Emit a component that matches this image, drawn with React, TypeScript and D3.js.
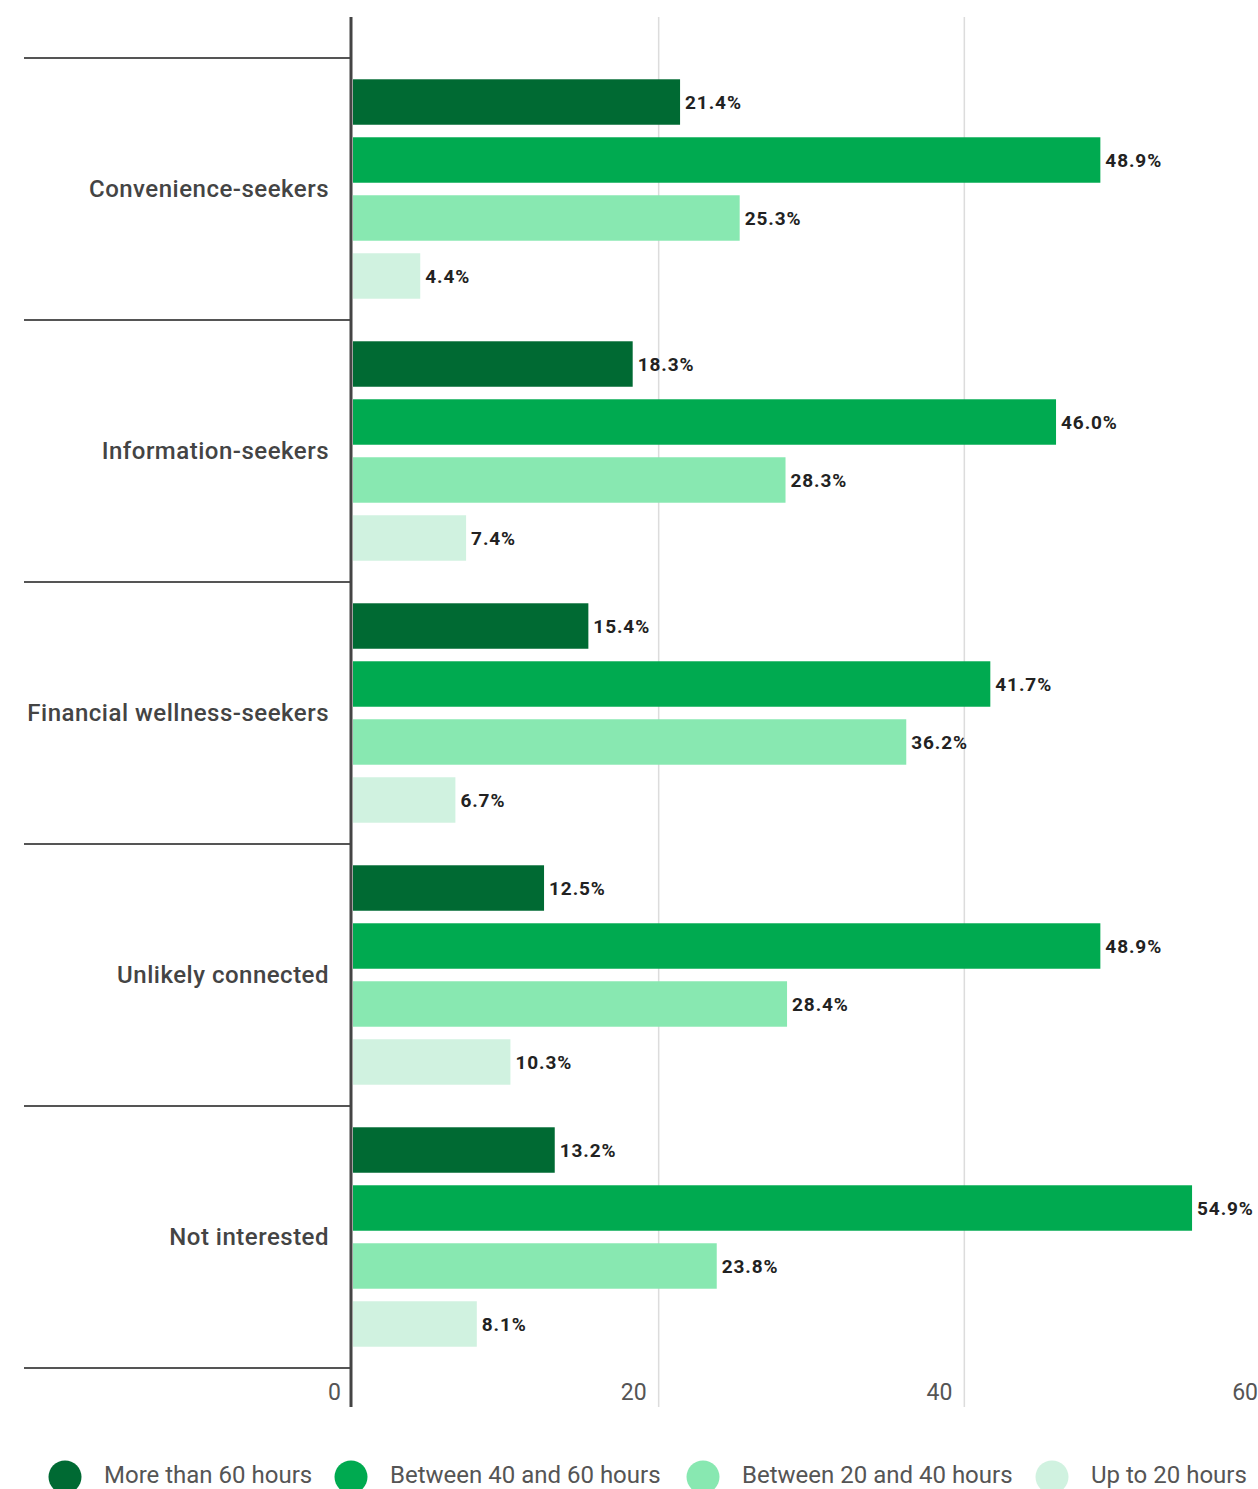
import React from "react";
import * as d3 from "d3";

const categories = [
  "Convenience-seekers",
  "Information-seekers",
  "Financial wellness-seekers",
  "Unlikely connected",
  "Not interested",
];
const seriesNames = [
  "More than 60 hours",
  "Between 40 and 60 hours",
  "Between 20 and 40 hours",
  "Up to 20 hours",
];
const moreThan60 = [21.4, 18.3, 15.4, 12.5, 13.2];
const between40and60 = [48.9, 46.0, 41.7, 48.9, 54.9];
const between20and40 = [25.3, 28.3, 36.2, 28.4, 23.8];
const upTo20 = [4.4, 7.4, 6.7, 10.3, 8.1];
const xTicks = [0, 20, 40, 60];
const colors = ["#006a33", "#00aa50", "#88e8b1", "#d0f2e0"];

const seriesValues = [moreThan60, between40and60, between20and40, upTo20];

const W = 1258;
const H = 1489;

export default function App() {
  const x = d3.scaleLinear().domain([0, 60]).range([353, 1270]);
  const y0 = d3.scaleBand().domain(categories).range([58, 1368]).paddingInner(0).paddingOuter(0);
  const y1 = d3
    .scaleBand()
    .domain(seriesNames)
    .range([0, y0.bandwidth()])
    .paddingInner(0.216)
    .paddingOuter(0.367);

  const font = "Roboto, 'Noto Sans', sans-serif";
  const legendCircleX = [65, 351, 703, 1052];

  return (
    <svg
      width={W}
      height={H}
      style={{ position: "absolute", left: 0, top: 0, display: "block", background: "#fff" }}
      fontFamily={font}
    >
      {/* gridlines */}
      {xTicks.slice(1).map((t) => (
        <line key={"g" + t} x1={x(t)} x2={x(t)} y1={17} y2={1407} stroke="#dcdcdc" strokeWidth={1.5} />
      ))}
      {/* tick labels */}
      {xTicks.map((t) => (
        <text
          key={"t" + t}
          x={x(t) - 12}
          y={1400}
          textAnchor="end"
          fontSize={23}
          fill="#555"
        >
          {t}
        </text>
      ))}
      {/* category separators */}
      {[...categories.map((c) => y0(c) as number), 1368].map((yy, i) => (
        <line key={"s" + i} x1={24} x2={351} y1={yy} y2={yy} stroke="#555" strokeWidth={2.2} />
      ))}
      {/* bars */}
      {categories.map((c, ci) => (
        <g key={c}>
          <text
            x={329}
            y={(y0(c) as number) + y0.bandwidth() / 2}
            dy="0.35em"
            textAnchor="end"
            fontSize={24}
            fontWeight={500}
            letterSpacing={0.5}
            fill="#444"
          >
            {c}
          </text>
          {seriesNames.map((s, si) => {
            const v = seriesValues[si][ci];
            const by = (y0(c) as number) + (y1(s) as number);
            return (
              <g key={s}>
                <rect x={x(0)} y={by} width={x(v) - x(0)} height={y1.bandwidth()} fill={colors[si]} />
                <text
                  x={x(v) + 5}
                  y={by + y1.bandwidth() / 2}
                  dy="0.35em"
                  fontSize={19}
                  fontWeight={700}
                  letterSpacing={0.9}
                  fill="#222"
                >
                  {v.toFixed(1) + "%"}
                </text>
              </g>
            );
          })}
        </g>
      ))}
      {/* axis line */}
      <line x1={351} x2={351} y1={17} y2={1407} stroke="#444" strokeWidth={3} />
      {/* legend */}
      {seriesNames.map((s, i) => (
        <g key={"l" + s}>
          <circle cx={legendCircleX[i]} cy={1477} r={16.5} fill={colors[i]} />
          <text x={legendCircleX[i] + 39} y={1483} fontSize={24} fill="#555">
            {s}
          </text>
        </g>
      ))}
    </svg>
  );
}
